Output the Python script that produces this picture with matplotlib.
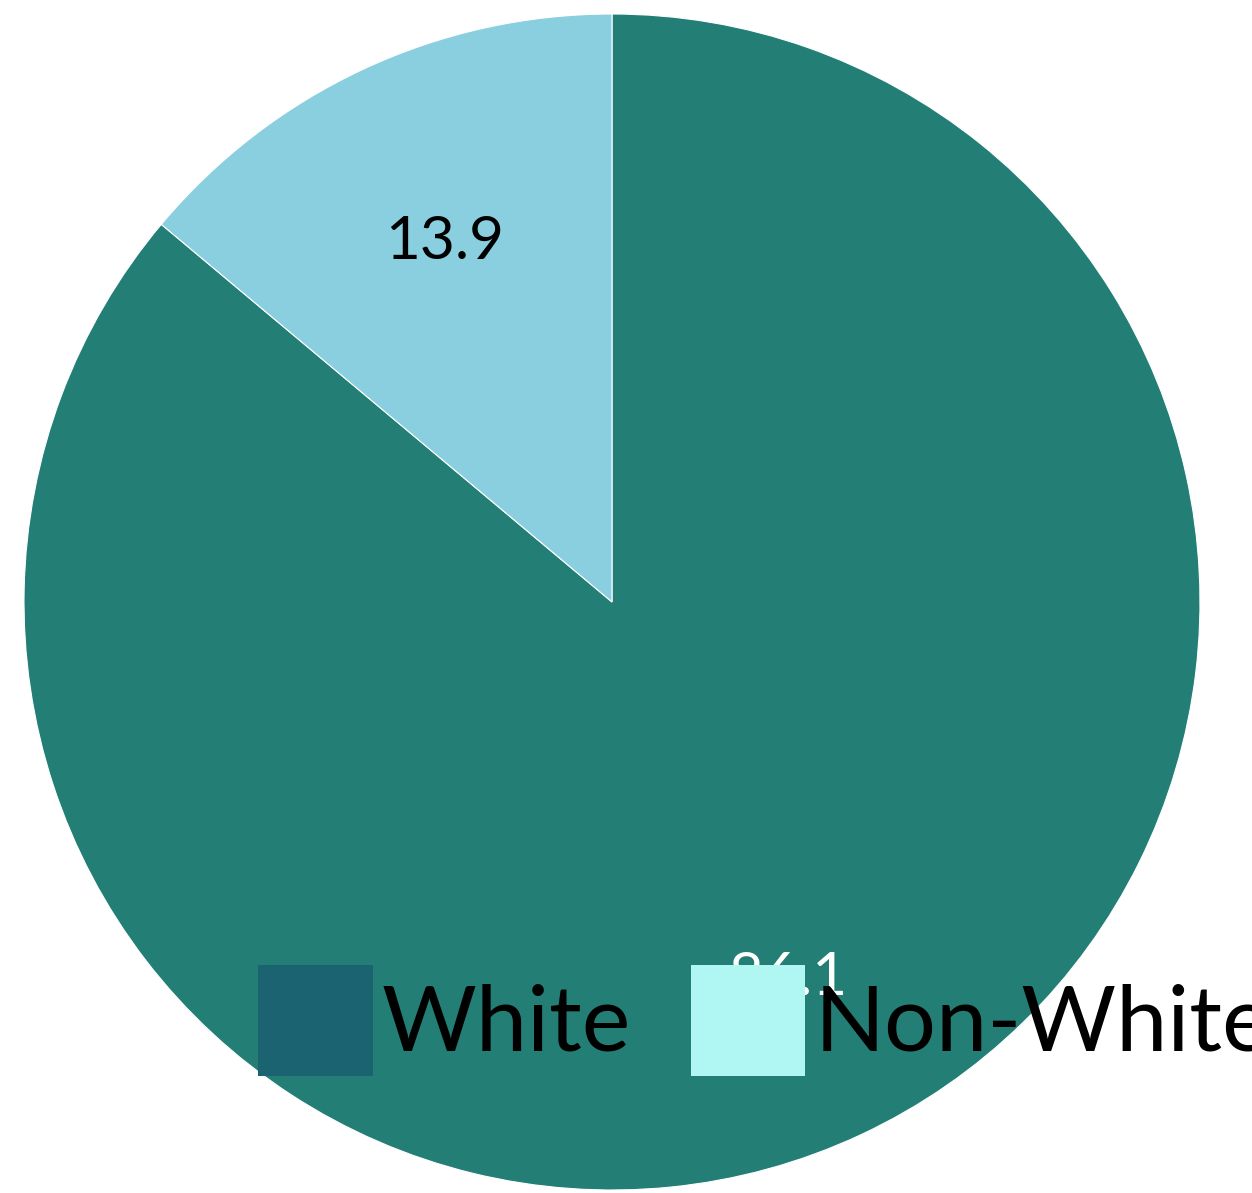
import matplotlib
matplotlib.use("Agg")
import matplotlib.pyplot as plt
import numpy as np
from matplotlib.patches import Patch

plt.rcParams["font.family"] = ["Lato", "DejaVu Sans"]

# data
labels = ["White", "Non-White"]
values = [86.1, 13.9]
slice_colors = ["#237F76", "#8ACFE0"]
legend_colors = ["#1B6370", "#B0F7F4"]
label_colors = ["white", "black"]
label_dist = [0.705, 0.675]

W, H = 1252, 1193
fig = plt.figure(figsize=(W / 100, H / 100), dpi=100)

# pie occupies a square of 1176 px centred at (612, 602)
ax = fig.add_axes([24 / W, 3 / H, 1176 / W, 1176 / H])
wedges, texts, autotexts = ax.pie(
    values,
    colors=slice_colors,
    startangle=90,
    counterclock=False,
    autopct=lambda p: f"{p:.1f}",
    pctdistance=0.675,
    wedgeprops=dict(edgecolor="white", linewidth=0.8),
    textprops=dict(fontsize=43.5),
)
# the labels sit at slightly different radii in the original
for w, t, c, d in zip(wedges, autotexts, label_colors, label_dist):
    t.set_color(c)
    mid = np.deg2rad((w.theta1 + w.theta2) / 2)
    t.set_position((d * np.cos(mid), d * np.sin(mid)))
ax.set_xlim(-1, 1)
ax.set_ylim(-1, 1)

handles = [Patch(facecolor=c, label=l) for c, l in zip(legend_colors, labels)]
fig.legend(
    handles=handles,
    loc="lower left",
    bbox_to_anchor=(258 / W, (H - 1076) / H),
    ncol=2,
    frameon=False,
    fontsize=66,
    handlelength=1.25,
    handleheight=1.48,
    handletextpad=0.1,
    columnspacing=0.65,
    borderpad=0,
    borderaxespad=0,
)

fig.savefig("out.png", dpi=100)
